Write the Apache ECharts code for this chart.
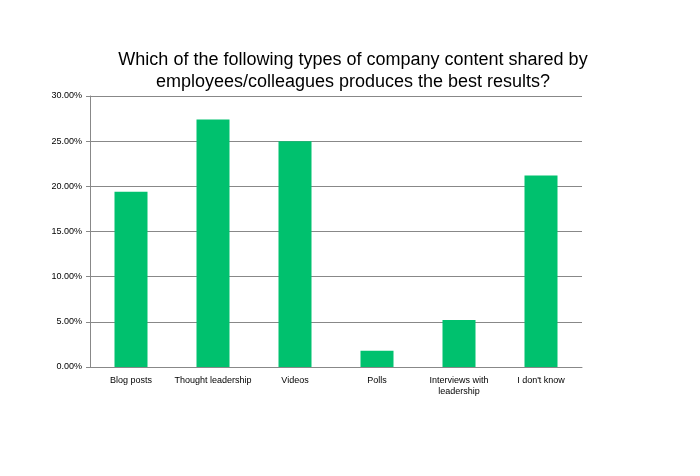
<!DOCTYPE html>
<html><head><meta charset="utf-8">
<script src="https://cdn.jsdelivr.net/npm/echarts@6/dist/echarts.min.js"></script>
<style>html,body{margin:0;background:#fff}#c{width:700px;height:476px}</style>
</head><body><div id="c"></div>
<script>
const categories = ['Blog posts', 'Thought leadership', 'Videos', 'Polls', 'Interviews with\nleadership', 'I don\'t know'];
const values = [0.194, 0.274, 0.250, 0.018, 0.052, 0.212];
const title = 'Which of the following types of company content shared by\nemployees/colleagues produces the best results?';

const chart = echarts.init(document.getElementById('c'));
chart.setOption({
  animation: false,
  title: {
    text: title, left: 348, top: 44, textAlign: 'center',
    textStyle: { fontFamily: 'Liberation Sans', fontSize: 18, fontWeight: 'normal', color: '#000', lineHeight: 22 }
  },
  grid: { left: 90, right: 118, top: 96, bottom: 109 },
  xAxis: {
    type: 'category', data: categories,
    axisLine: { lineStyle: { color: '#888' } },
    axisTick: { show: false },
    axisLabel: { color: '#000', fontFamily: 'Liberation Sans', fontSize: 9, interval: 0, lineHeight: 11 }
  },
  yAxis: {
    type: 'value', min: 0, max: 0.3, interval: 0.05,
    axisLine: { show: true, lineStyle: { color: '#888' } },
    axisTick: { show: true, length: 4, lineStyle: { color: '#888' } },
    splitLine: { lineStyle: { color: '#888' } },
    axisLabel: { color: '#000', fontFamily: 'Liberation Sans', fontSize: 9, formatter: v => (v * 100).toFixed(2) + '%' }
  },
  series: [{
    type: 'bar', data: values, barWidth: 33,
    itemStyle: { color: '#00c16e' }
  }]
});
</script></body></html>
